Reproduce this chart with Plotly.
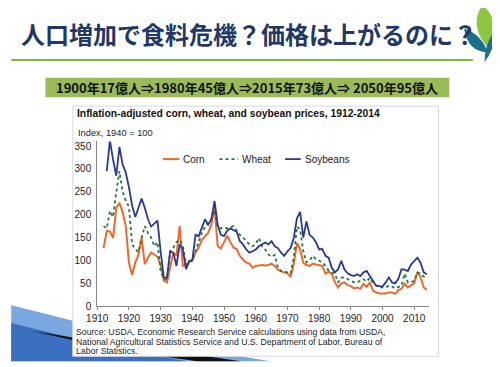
import plotly.graph_objects as go

W, H = 500, 367
OFF = 8  # page body margin compensation

# ---------------- data ----------------
corn_years = list(range(1912, 2015))
corn = [127, 165, 163, 149, 215, 226, 205, 175, 95, 68,
        96, 112, 150, 92, 106, 117, 113, 108, 90, 56,
        52, 85, 117, 110, 175, 88, 90, 99, 100, 117,
        128, 145, 152, 160, 178, 217, 131, 126, 140, 154,
        140, 128, 125, 110, 102, 95, 93, 84, 88, 89,
        90, 89, 90, 93, 88, 80, 76, 74, 72, 64,
        92, 138, 124, 95, 90, 88, 93, 91, 90, 88,
        71, 76, 70, 52, 41, 50, 52, 46, 44, 39,
        41, 38, 49, 42, 52, 34, 30, 28, 28, 28,
        30, 30, 27, 35, 38, 49, 41, 45, 50, 74,
        64, 41, 36]

wheat_years = list(range(1912, 2015))
wheat = [175, 170, 208, 195, 249, 295, 250, 231, 217, 135,
         125, 118, 149, 175, 160, 150, 131, 140, 77, 59,
         58, 120, 128, 140, 145, 133, 90, 99, 100, 120,
         145, 160, 174, 181, 190, 210, 174, 170, 172, 170,
         172, 175, 165, 156, 150, 142, 135, 131, 136, 149,
         131, 124, 113, 108, 112, 84, 77, 75, 74, 71,
         106, 174, 168, 120, 96, 100, 110, 103, 100, 96,
         88, 78, 74, 70, 52, 62, 63, 59, 55, 52,
         52, 55, 59, 54, 62, 52, 45, 41, 41, 41,
         45, 43, 39, 42, 45, 71, 52, 53, 55, 74,
         71, 65, 60]

soy_years = list(range(1913, 2015))
soybeans = [295, 362, 320, 285, 348, 310, 292, 260, 220, 195,
            215, 235, 215, 190, 174, 180, 187, 120, 63, 62,
            120, 117, 88, 135, 125, 81, 97, 100, 156, 153,
            170, 190, 178, 190, 230, 178, 156, 153, 165, 170,
            166, 163, 142, 135, 124, 117, 120, 124, 131, 135,
            139, 135, 142, 131, 127, 117, 110, 120, 127, 149,
            192, 206, 150, 185, 156, 150, 140, 124, 125, 110,
            106, 84, 74, 81, 99, 80, 72, 68, 66, 70,
            66, 74, 77, 66, 55, 45, 44, 43, 52, 63,
            52, 50, 60, 81, 80, 77, 91, 98, 106, 95,
            74, 70]

series_names = ["Corn", "Wheat", "Soybeans"]
x_ticks = [1910, 1920, 1930, 1940, 1950, 1960, 1970, 1980, 1990, 2000, 2010]
y_ticks = [0, 50, 100, 150, 200, 250, 300, 350]

slide_title = "人口増加で食料危機？価格は上がるのに？"
banner = "1900年17億人⇒1980年45億人⇒2015年73億人⇒ 2050年95億人"
chart_title = "Inflation-adjusted corn, wheat, and soybean prices, 1912-2014"
y_label = "Index, 1940 = 100"
source_lines = [
    "Source: USDA, Economic Research Service calculations using data from USDA,",
    "National Agricultural Statistics Service and U.S. Department of Labor, Bureau of",
    "Labor Statistics.",
]

# ---------------- helpers ----------------
def px(x):
    return (x - OFF) / W

def py(y):
    return 1 - (y - OFF) / H

def path(points):
    return "M " + " L ".join(f"{px(x):.4f},{py(y):.4f}" for x, y in points) + " Z"

def qpath(cmds):
    out = []
    for c in cmds:
        if c[0] == "M":
            out.append(f"M {px(c[1]):.4f},{py(c[2]):.4f}")
        elif c[0] == "Q":
            out.append(f"Q {px(c[1]):.4f},{py(c[2]):.4f} {px(c[3]):.4f},{py(c[4]):.4f}")
    return " ".join(out) + " Z"

FONT = "Liberation Sans, Arial, sans-serif"
colors = {"Corn": "#f0692a", "Wheat": "#1d7a3a", "Soybeans": "#2b3a8f"}
styles = {
    "Corn": dict(color=colors["Corn"], width=2),
    "Wheat": dict(color=colors["Wheat"], width=1.8, dash="dot"),
    "Soybeans": dict(color=colors["Soybeans"], width=1.8),
}

fig = go.Figure()
for name, xs, ys in [("Corn", corn_years, corn), ("Wheat", wheat_years, wheat),
                     ("Soybeans", soy_years, soybeans)]:
    fig.add_trace(go.Scatter(x=xs, y=ys, mode="lines", name=name, line=styles[name],
                             showlegend=False))

shapes = []
# bottom-left swoosh decoration
shapes.append(dict(type="path", xref="paper", yref="paper", layer="below",
                   path=path([(0, 310), (40, 320), (150, 348), (265, 367), (0, 367)]),
                   fillcolor="#7aa7e0", line=dict(width=0)))
shapes.append(dict(type="path", xref="paper", yref="paper", layer="below",
                   path=path([(0, 328), (60, 343), (140, 360), (180, 367), (0, 367)]),
                   fillcolor="#3d6fc0", line=dict(width=0)))
shapes.append(dict(type="path", xref="paper", yref="paper", layer="below",
                   path=path([(20, 336), (120, 352), (200, 362), (235, 367), (190, 367), (110, 356)]),
                   fillcolor="#111111", line=dict(width=0)))
# chart panel
shapes.append(dict(type="rect", xref="paper", yref="paper", layer="below",
                   x0=px(63), x1=px(437), y0=py(362), y1=py(107),
                   fillcolor="white", line=dict(color="#d9d9d9", width=1)))
# green rule under title
shapes.append(dict(type="line", xref="paper", yref="paper",
                   x0=px(0), x1=px(472), y0=py(60), y1=py(60),
                   line=dict(color="#7dbb3c", width=2)))
# banner box
shapes.append(dict(type="rect", xref="paper", yref="paper", layer="below",
                   x0=px(35), x1=px(448), y0=py(98), y1=py(78),
                   fillcolor="#9bbb59", line=dict(width=0)))
# right edge border
shapes.append(dict(type="line", xref="paper", yref="paper",
                   x0=px(497), x1=px(497), y0=py(367), y1=py(0),
                   line=dict(color="#111111", width=2)))
# leaf logo
shapes.append(dict(type="path", xref="paper", yref="paper",
                   path=qpath([("M", 482, 4), ("Q", 503, 22, 486, 46), ("Q", 468, 24, 482, 4)]),
                   fillcolor="#8cc63f", line=dict(width=0)))
shapes.append(dict(type="path", xref="paper", yref="paper",
                   path=qpath([("M", 463, 28), ("Q", 467, 52, 487, 52), ("Q", 481, 34, 463, 28)]),
                   fillcolor="#1d6f86", line=dict(width=0)))
shapes.append(dict(type="path", xref="paper", yref="paper",
                   path=qpath([("M", 496, 28), ("Q", 494, 50, 484, 62), ("Q", 484, 42, 496, 28)]),
                   fillcolor="#1d6f86", line=dict(width=0)))

annotations = [
    dict(text=f"<b>{slide_title}</b>", x=px(8), y=py(33), xref="paper", yref="paper",
         xanchor="left", yanchor="middle", showarrow=False,
         font=dict(family="Noto Sans CJK JP", size=24, color="#1f3864")),
    dict(text=f"<b>{banner}</b>", x=px(241), y=py(88), xref="paper", yref="paper",
         xanchor="center", yanchor="middle", showarrow=False,
         font=dict(family="Noto Sans CJK JP", size=13, color="#111111")),
    dict(text=f"<b>{chart_title}</b>", x=px(65), y=py(115), xref="paper", yref="paper",
         xanchor="left", yanchor="middle", showarrow=False,
         font=dict(family=FONT, size=10.3, color="#111111")),
    dict(text=y_label, x=px(66), y=py(134), xref="paper", yref="paper",
         xanchor="left", yanchor="middle", showarrow=False,
         font=dict(family=FONT, size=9.3, color="#222222")),
]
for i, line in enumerate(source_lines):
    annotations.append(dict(text=line, x=px(64), y=py(337 + 10 * i), xref="paper", yref="paper",
                            xanchor="left", yanchor="middle", showarrow=False,
                            font=dict(family=FONT, size=8.7, color="#222222")))

# legend (key line + label for each series)
legend_pos = {"Corn": (155, 172), "Wheat": (213, 232), "Soybeans": (280, 296)}
for name in series_names:
    x0, x1 = legend_pos[name]
    shapes.append(dict(type="line", xref="paper", yref="paper",
                       x0=px(x0), x1=px(x1), y0=py(161), y1=py(161), line=styles[name]))
    annotations.append(dict(text=name, x=px(x1 + 2), y=py(161), xref="paper", yref="paper",
                            xanchor="left", yanchor="middle", showarrow=False,
                            font=dict(family=FONT, size=10, color="#222222")))

fig.update_layout(
    width=W, height=H, autosize=False,
    margin=dict(l=0, r=0, t=0, b=0),
    paper_bgcolor="white", plot_bgcolor="rgba(0,0,0,0)",
    shapes=shapes, annotations=annotations,
    showlegend=False,
    xaxis=dict(domain=[px(88), px(427)], range=[1910, 2014.6],
               tickvals=x_ticks, ticks="outside", ticklen=3, tickcolor="#888888",
               showline=True, linecolor="#888888", linewidth=1, showgrid=False, zeroline=False,
               tickfont=dict(family=FONT, size=10, color="#222222")),
    yaxis=dict(domain=[py(311), py(143)], range=[0, 360],
               tickvals=y_ticks, ticks="", showline=True, linecolor="#888888", linewidth=1,
               showgrid=False, zeroline=False, ticklabelstandoff=3,
               tickfont=dict(family=FONT, size=10, color="#222222")),
)

fig.write_html("out.html")
